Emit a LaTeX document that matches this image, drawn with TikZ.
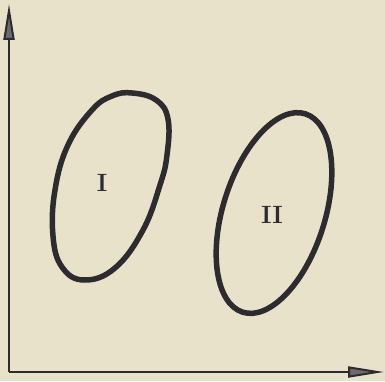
\documentclass[tikz,border=0pt]{standalone}
\usetikzlibrary{arrows.meta}
\definecolor{paper}{HTML}{E9E2CB}
\definecolor{ink}{HTML}{2B2B30}
\tikzset{
  axis/.style={draw=ink, line width=2pt, -{Triangle[length=36pt,width=11pt,fill=ink!70]}},
  blob/.style={draw=ink, line width=5.5pt},
  lbl/.style={text=ink, font=\fontsize{25}{25}\selectfont\bfseries, inner sep=0pt}
}
\begin{document}
\begin{tikzpicture}[x=1pt,y=1pt]
\fill[paper] (0,0) rectangle (385,381);
\useasboundingbox (0,0) rectangle (385,381);
\coordinate (origin) at (9,9);
\coordinate (ytip) at (9,377);
\coordinate (xtip) at (384,9);
\draw[axis] (origin) -- (ytip);
\draw[axis] (origin) -- (xtip);
% region I
\draw[blob] plot[smooth cycle, tension=0.7] coordinates {
 (132,288) (156,281) (168,262) (167,226) (160,196) (143,151)
 (115,113) (84,101) (62,114) (53,145) (55,191) (68,236) (92,271) (112,285)};
\node[lbl] (one) at (102,198) {I};
% region II
\draw[blob, rotate around={-17.5:(274,168)}] (274,168) ellipse [x radius=51, y radius=104];
\node[lbl] (two) at (272,166) {II};
\end{tikzpicture}
\end{document}
